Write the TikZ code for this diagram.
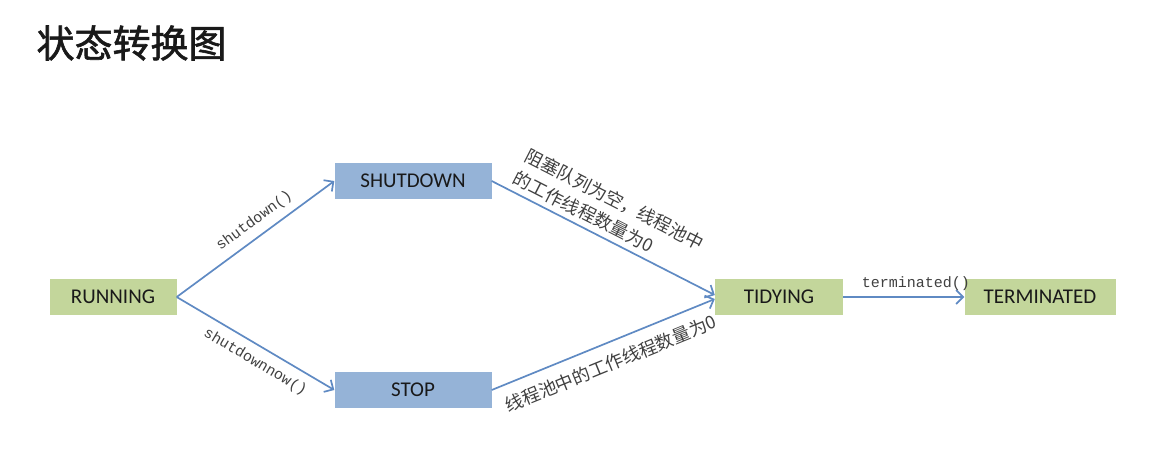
\documentclass[tikz,border=0pt]{standalone}
\usepackage{fontspec}
\usepackage{xcolor}
\usetikzlibrary{arrows.meta}

\setmonofont{Liberation Mono}
\newfontfamily\boxfont{Carlito}
\newfontfamily\cjk{Noto Sans CJK SC}
\newfontfamily\titlefont[FakeBold=1.6]{Noto Sans CJK SC}

\definecolor{boxgreen}{HTML}{C3D69B}
\definecolor{boxblue}{HTML}{95B3D7}
\definecolor{arrowblue}{HTML}{5F8AC3}

\tikzset{
  state/.style={minimum height=36pt, inner sep=0pt, text=black!90,
    font=\boxfont\fontsize{21}{24}\selectfont},
  greenstate/.style={state, fill=boxgreen},
  bluestate/.style={state, fill=boxblue},
  trans/.style={draw=arrowblue, line width=1.7pt,
    -{Straight Barb[length=7pt, width=14pt]}},
  codelabel/.style={text=black!75, font=\ttfamily\fontsize{15}{18}\selectfont},
  cnlabel/.style={text=black!75, font=\cjk\fontsize{18}{25}\selectfont}
}

\begin{document}
\begin{tikzpicture}[x=1pt, y=-1pt]
    \useasboundingbox (0,0) rectangle (1169,458);

    % Titre
    \node[anchor=west, font=\titlefont\fontsize{38}{42}\selectfont, text=black!90] (title) at (33,43) {状态转换图};

    % Etats
    \node[greenstate, minimum width=127pt] (running) at (113,297) {RUNNING};
    \node[bluestate, minimum width=157pt] (shutdown) at (413,181) {SHUTDOWN};
    \node[bluestate, minimum width=157pt] (stop) at (413,390) {STOP};
    \node[greenstate, minimum width=128pt] (tidying) at (779,297) {TIDYING};
    \node[greenstate, minimum width=151pt] (terminated) at (1040,297) {TERMINATED};

    % Transitions
    \draw[trans] (running.east) -- (shutdown.west) node[pos=0.55, above=4pt, sloped, codelabel] {shutdown()};
    \draw[trans] (running.east) -- (stop.west) node[pos=0.55, below=5pt, sloped, codelabel] {shutdownnow()};
    \draw[trans] (shutdown.east) -- ([yshift=2pt]tidying.west) node[pos=0.47, above=2pt, sloped, align=left, cnlabel] {阻塞队列为空，线程池中\\的工作线程数量为0};
    \draw[trans] (stop.east) -- ([yshift=-2pt]tidying.west) node[midway, below=8pt, sloped, cnlabel] {线程池中的工作线程数量为0};
    \draw[trans] (tidying.east) -- (terminated.west) node[pos=0.6, above=2pt, codelabel] {terminated()};
\end{tikzpicture}
\end{document}
